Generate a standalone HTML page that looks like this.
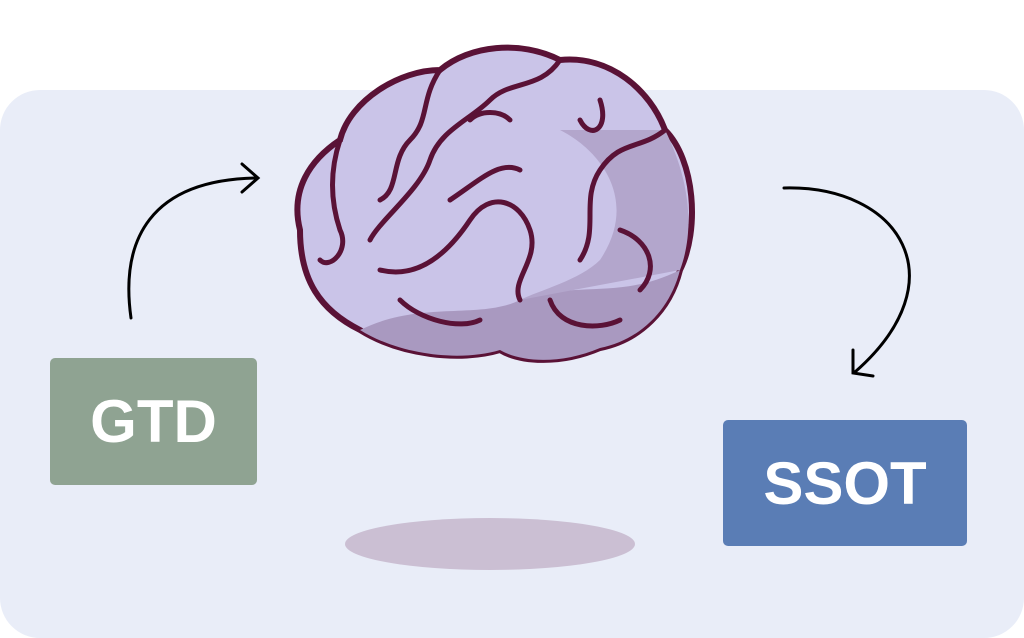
<!DOCTYPE html>
<html><head><meta charset="utf-8"><style>
html,body{margin:0;padding:0;background:#fff;width:1024px;height:638px;overflow:hidden}
.bg{position:absolute;left:0;top:90px;width:1024px;height:548px;background:#e9edf8;border-radius:40px}
.box{position:absolute;color:#fff;font-family:"Liberation Sans",sans-serif;font-weight:bold;display:flex;align-items:center;justify-content:center;border-radius:5px}
</style></head><body>
<div class="bg"></div>
<div class="box" style="left:50px;top:358px;width:207px;height:127px;background:#8fa392;font-size:60px">GTD</div>
<div class="box" style="left:723px;top:420px;width:244px;height:126px;background:#5a7db5;font-size:60px">SSOT</div>
<svg width="1024" height="638" style="position:absolute;left:0;top:0">
<ellipse cx="490" cy="544" rx="145" ry="26" fill="#cbbfd3"/>
<g fill="none" stroke="#000" stroke-width="3" stroke-linecap="round">
<path d="M131 318 C120 240 150 180 256 178"/>
<path d="M242 164 L258 178 L242 192"/>
<path d="M784 188 C900 185 960 280 855 372"/>
<path d="M853 350 L853 373 L873 376"/>
</g>
<path d="M300 230 C290 190 310 160 340 140 C350 100 400 70 440 70 C470 45 520 40 560 60 C610 55 650 90 665 130 C695 160 700 230 680 270 C670 310 640 340 600 348 C560 365 520 362 500 350 C460 362 400 355 360 330 C320 310 300 280 300 230 Z" fill="#cac4e8" stroke="#5a1236" stroke-width="6"/>
<path d="M360 330 C420 300 480 320 520 300 C580 280 620 300 680 270 C670 310 640 340 600 348 C560 365 520 362 500 350 C460 362 400 355 360 330 Z" fill="#a999c0"/>
<path d="M560 130 C600 150 640 200 600 260 C580 280 540 290 520 300 L680 270 C695 230 690 180 665 130 Z" fill="#b3a6cc"/>
<g fill="none" stroke="#5a1236" stroke-width="5" stroke-linecap="round">
<path d="M340 140 C330 170 330 200 340 230 C350 250 330 270 320 260"/>
<path d="M440 70 C420 100 430 120 410 140 C390 160 400 190 380 200"/>
<path d="M560 60 C540 90 510 80 490 100 C470 120 440 130 430 160 C420 190 380 220 370 240"/>
<path d="M380 270 C420 280 450 250 470 220 C490 190 520 200 530 230 C540 260 510 280 520 300"/>
<path d="M665 130 C640 150 620 140 600 170 C580 200 600 230 580 260"/>
<path d="M450 200 C480 180 500 160 520 170"/>
<path d="M600 100 C610 130 590 140 580 120"/>
<path d="M620 230 C650 240 660 270 640 290"/>
<path d="M400 300 C420 320 460 330 480 320"/>
<path d="M550 300 C560 330 600 330 620 320"/>
<path d="M470 120 C480 110 500 110 510 120"/>
</g>
</svg>
</body></html>
